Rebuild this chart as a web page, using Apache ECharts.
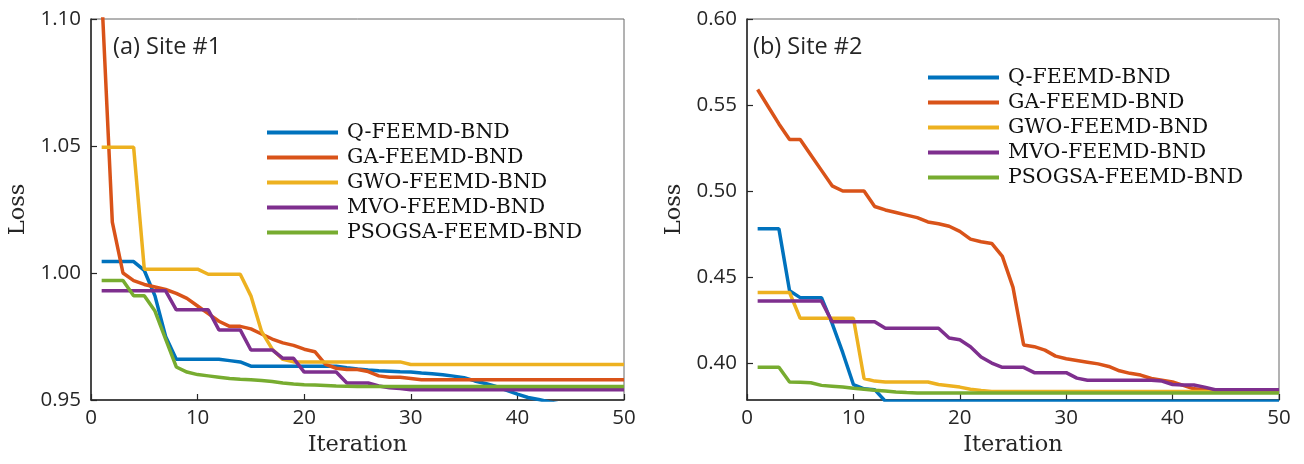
<!DOCTYPE html>
<html>
<head>
<meta charset="utf-8">
<script src="https://cdn.jsdelivr.net/npm/echarts@6/dist/echarts.min.js"></script>
<style>html,body{margin:0;padding:0;background:#fff;}#c{width:1304px;height:464px;}</style>
</head>
<body>
<div id="c"></div>
<script>
var iterations = [];
for (var k = 1; k <= 50; k++) iterations.push(k);

var seriesNames = ['Q-FEEMD-BND', 'GA-FEEMD-BND', 'GWO-FEEMD-BND', 'MVO-FEEMD-BND', 'PSOGSA-FEEMD-BND'];
var colors = ['#0072BD', '#D95319', '#EDB120', '#7E2F8E', '#77AC30'];

// Site #1
var s1_Q = [1.0045,1.0045,1.0045,1.0045,1.001,0.991,0.975,0.966,0.966,0.966,0.966,0.966,0.9655,0.965,0.9633,0.9633,0.9633,0.9633,0.9633,0.9633,0.9633,0.9633,0.9633,0.9627,0.9622,0.9618,0.9615,0.9613,0.9611,0.961,0.9606,0.9603,0.9599,0.9594,0.9588,0.9575,0.9565,0.9553,0.9538,0.9523,0.951,0.9502,0.9492,0.9484,0.9476,0.947,0.9465,0.946,0.9455,0.945];
var s1_GA = [1.11,1.02,1.000,0.997,0.9955,0.9945,0.9935,0.992,0.990,0.987,0.984,0.981,0.979,0.979,0.978,0.976,0.974,0.9725,0.9715,0.970,0.969,0.964,0.9625,0.962,0.962,0.9612,0.9595,0.959,0.959,0.9585,0.958,0.958,0.958,0.958,0.958,0.958,0.958,0.958,0.958,0.958,0.958,0.958,0.958,0.958,0.958,0.958,0.958,0.958,0.958,0.958];
var s1_GWO = [1.0495,1.0495,1.0495,1.0495,1.0015,1.0015,1.0015,1.0015,1.0015,1.0015,0.9995,0.9995,0.9995,0.9995,0.991,0.977,0.970,0.966,0.965,0.965,0.965,0.965,0.965,0.965,0.965,0.965,0.965,0.965,0.965,0.964,0.964,0.964,0.964,0.964,0.964,0.964,0.964,0.964,0.964,0.964,0.964,0.964,0.964,0.964,0.964,0.964,0.964,0.964,0.964,0.964];
var s1_MVO = [0.993,0.993,0.993,0.993,0.993,0.993,0.993,0.9855,0.9855,0.9855,0.9855,0.9776,0.9776,0.9776,0.9697,0.9697,0.9697,0.9664,0.9664,0.961,0.961,0.961,0.961,0.9567,0.9567,0.9567,0.9555,0.9548,0.9545,0.954,0.954,0.954,0.954,0.954,0.954,0.954,0.954,0.954,0.954,0.954,0.954,0.954,0.954,0.954,0.954,0.954,0.954,0.954,0.954,0.954];
var s1_PSOGSA = [0.997,0.997,0.997,0.991,0.991,0.985,0.974,0.963,0.961,0.960,0.9595,0.959,0.9585,0.9582,0.958,0.9577,0.9573,0.9567,0.9563,0.956,0.9559,0.9557,0.9555,0.9554,0.9553,0.9553,0.9553,0.9553,0.9553,0.9553,0.9553,0.9553,0.9553,0.9553,0.9553,0.9553,0.9553,0.9553,0.9553,0.9553,0.9553,0.9553,0.9553,0.9553,0.9553,0.9553,0.9553,0.9553,0.9553,0.9553];

// Site #2
var s2_Q = [0.478,0.478,0.478,0.442,0.438,0.438,0.438,0.423,0.406,0.3875,0.385,0.3845,0.3778,0.3778,0.3778,0.3778,0.3778,0.3778,0.3778,0.3778,0.3778,0.3778,0.3778,0.3778,0.3778,0.3778,0.3778,0.3778,0.3778,0.3778,0.3778,0.3778,0.3778,0.3778,0.3778,0.3778,0.3778,0.3778,0.3778,0.3778,0.3778,0.3778,0.3778,0.3778,0.3778,0.3778,0.3778,0.3778,0.3778,0.3778];
var s2_GA = [0.559,0.549,0.539,0.530,0.530,0.521,0.512,0.503,0.500,0.500,0.500,0.491,0.489,0.4875,0.486,0.4845,0.482,0.481,0.4795,0.4765,0.472,0.4705,0.4695,0.462,0.444,0.4105,0.4095,0.4075,0.404,0.4025,0.4015,0.4005,0.3995,0.398,0.3955,0.394,0.393,0.391,0.390,0.389,0.387,0.385,0.3845,0.3845,0.3845,0.3845,0.3845,0.3845,0.3845,0.3845];
var s2_GWO = [0.441,0.441,0.441,0.441,0.426,0.426,0.426,0.426,0.426,0.426,0.391,0.3895,0.389,0.389,0.389,0.389,0.389,0.3875,0.3868,0.386,0.3848,0.384,0.3835,0.3835,0.3835,0.3835,0.3835,0.3835,0.3835,0.3835,0.3835,0.3835,0.3835,0.3835,0.3835,0.3835,0.3835,0.3835,0.3835,0.3835,0.3835,0.3835,0.3835,0.3835,0.3835,0.3835,0.3835,0.3835,0.3835,0.3835];
var s2_MVO = [0.436,0.436,0.436,0.436,0.436,0.436,0.436,0.424,0.424,0.424,0.424,0.424,0.4202,0.4202,0.4202,0.4202,0.4202,0.4202,0.4145,0.4135,0.4095,0.4035,0.400,0.3975,0.3975,0.3975,0.3944,0.3944,0.3944,0.3944,0.3912,0.390,0.390,0.390,0.390,0.390,0.390,0.390,0.3895,0.3875,0.3872,0.3872,0.386,0.3845,0.3845,0.3845,0.3845,0.3845,0.3845,0.3845];
var s2_PSOGSA = [0.3975,0.3975,0.3975,0.389,0.3888,0.3885,0.387,0.3865,0.386,0.3853,0.3848,0.3842,0.3837,0.3832,0.3828,0.3826,0.3826,0.3826,0.3826,0.3826,0.3826,0.3826,0.3826,0.3826,0.3826,0.3826,0.3826,0.3826,0.3826,0.3826,0.3826,0.3826,0.3826,0.3826,0.3826,0.3826,0.3826,0.3826,0.3826,0.3826,0.3826,0.3826,0.3826,0.3826,0.3826,0.3826,0.3826,0.3826,0.3826,0.3826];

var xTicks = [0, 10, 20, 30, 40, 50];
var y1Ticks = [0.95, 1.00, 1.05, 1.10];
var y2Ticks = [0.40, 0.45, 0.50, 0.55, 0.60];

var site1 = [s1_Q, s1_GA, s1_GWO, s1_MVO, s1_PSOGSA];
var site2 = [s2_Q, s2_GA, s2_GWO, s2_MVO, s2_PSOGSA];

function pairs(vals) { return iterations.map(function (it, i) { return [it, vals[i]]; }); }

var tickFont = { fontFamily: 'Open Sans', fontSize: 20.5, color: '#262626' };
var nameFont = { fontFamily: 'DejaVu Serif', fontSize: 22.5, color: '#262626' };

function xAxisCfg(gi) {
  return {
    type: 'value', gridIndex: gi, min: 0, max: 50,
    axisLabel: Object.assign({ customValues: xTicks, margin: 8 }, tickFont),
    axisTick: { customValues: xTicks, inside: true, length: 6, lineStyle: { color: '#262626', width: 1.2 } },
    axisLine: { show: true, lineStyle: { color: '#262626', width: 1.5 } },
    splitLine: { show: false },
    name: 'Iteration', nameLocation: 'middle', nameGap: 34, nameTextStyle: nameFont
  };
}
function yAxisCfg(gi, mn, mx, ticks) {
  return {
    type: 'value', gridIndex: gi, min: mn, max: mx,
    axisLabel: Object.assign({ customValues: ticks, margin: 10, formatter: function (v) { return v.toFixed(2); } }, tickFont),
    axisTick: { customValues: ticks, inside: true, length: 6, lineStyle: { color: '#262626', width: 1.2 } },
    axisLine: { show: true, lineStyle: { color: '#262626', width: 1.5 } },
    splitLine: { show: false },
    name: 'Loss', nameLocation: 'middle', nameGap: 61, nameTextStyle: nameFont
  };
}

var series = [];
[site1, site2].forEach(function (site, gi) {
  site.forEach(function (vals, si) {
    series.push({
      name: seriesNames[si], type: 'line', xAxisIndex: gi, yAxisIndex: gi,
      data: pairs(vals), symbol: 'none', clip: true, animation: false,
      lineStyle: { color: colors[si], width: 3.5 }, itemStyle: { color: colors[si] }
    });
  });
});

var legendCommon = {
  orient: 'vertical', icon: 'rect', itemWidth: 71, itemHeight: 4, itemGap: 0,
  textStyle: { fontFamily: 'DejaVu Serif', fontSize: 20.5, color: '#111', lineHeight: 25, padding: [0, 0, 0, 4] },
  data: seriesNames, selectedMode: false
};

var titleFont = { fontFamily: 'Open Sans', fontSize: 23.5, fontWeight: 'normal', color: '#262626' };

var option = {
  animation: false,
  backgroundColor: '#fff',
  title: [
    { text: '(a) Site #1', left: 108, top: 30, textStyle: titleFont },
    { text: '(b) Site #2', left: 748, top: 30, textStyle: titleFont }
  ],
  grid: [
    { left: 91, top: 19, width: 533, height: 381, show: true, borderColor: '#666', borderWidth: 1 },
    { left: 747, top: 19, width: 532, height: 381, show: true, borderColor: '#666', borderWidth: 1 }
  ],
  xAxis: [xAxisCfg(0), xAxisCfg(1)],
  yAxis: [yAxisCfg(0, 0.95, 1.10, y1Ticks), yAxisCfg(1, 0.3785, 0.60, y2Ticks)],
  legend: [
    Object.assign({ left: 262, top: 115 }, legendCommon),
    Object.assign({ left: 923, top: 60 }, legendCommon)
  ],
  series: series
};

var chart = echarts.init(document.getElementById('c'), null, { renderer: 'canvas' });
chart.setOption(option);
</script>
</body>
</html>
